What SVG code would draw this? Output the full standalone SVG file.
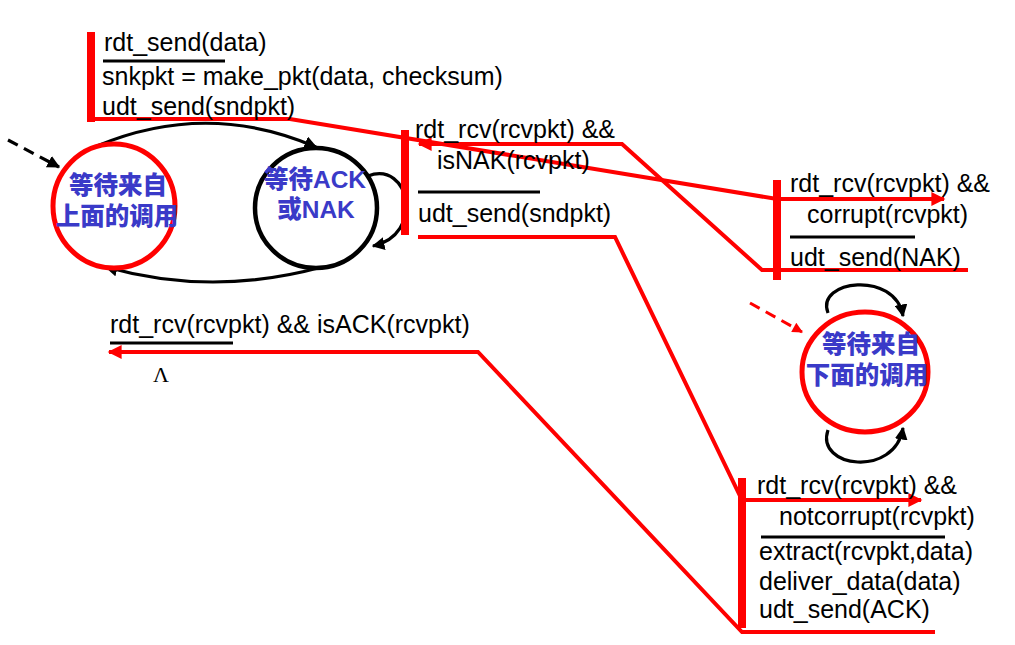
<svg xmlns="http://www.w3.org/2000/svg" width="1015" height="645" viewBox="0 0 1015 645">
  <style>
    .lbl { font-family: "Liberation Sans", Arial, sans-serif; font-size: 25px; fill: #000; }
    .state { font-family: "Liberation Sans", "Noto Sans CJK SC", sans-serif; font-size: 24.5px; font-weight: 900; fill: #3a3ac8; text-anchor: middle; }
    .rule { stroke: #000; stroke-width: 3; }
    .bar { fill: #ff0000; }
    .red { fill: none; stroke: #ff0000; stroke-width: 4; stroke-linejoin: miter; }
    .blk { fill: none; stroke: #000; stroke-width: 3.2; }
  </style>
  <defs>
    <marker id="ah-black" viewBox="0 0 10 10" refX="9" refY="5" markerWidth="4" markerHeight="4" orient="auto" markerUnits="strokeWidth">
      <path d="M0,0 L10,5 L0,10 Z" fill="#000"/>
    </marker>
    <marker id="ah-red" viewBox="0 0 10 10" refX="9" refY="5" markerWidth="4.5" markerHeight="3.5" orient="auto" markerUnits="strokeWidth">
      <path d="M0,0 L10,5 L0,10 Z" fill="#ff0000"/>
    </marker>
  </defs>

  <rect width="1015" height="645" fill="#fff"/>

  <!-- connectors -->
  <g id="connectors">
    <!-- sender transitions -->
    <path class="blk" d="M97,146 Q207,100 316,147" marker-end="url(#ah-black)"/>
    <path class="blk" d="M322,267 Q212,297 106,267" marker-end="url(#ah-black)"/>
    <path class="blk" d="M368,176 C410,160 425,235 373,246" marker-end="url(#ah-black)"/>
    <path class="blk" d="M8,140 L59,167" stroke-dasharray="11,7" marker-end="url(#ah-black)"/>
    <!-- receiver self loops -->
    <path class="blk" d="M828,313 C815,280 895,270 903,316" marker-end="url(#ah-black)"/>
    <path class="blk" d="M828,430 C815,468 895,478 903,428" marker-end="url(#ah-black)"/>
    <path d="M750,303 L802,332" fill="none" stroke="#ff0000" stroke-width="3" stroke-dasharray="11,7" marker-end="url(#ah-red)"/>

    <!-- highlighted red trace lines -->
    <path class="red" d="M88,119 L290,119 L777,199 L944,199" marker-end="url(#ah-red)"/>
    <path class="red" d="M968,270 L762,270 L622,144 L419,144" marker-end="url(#ah-red)"/>
    <path class="red" d="M418,237 L615,237 L742,500 L921,500" marker-end="url(#ah-red)"/>
    <path class="red" d="M935,632 L742,632 L478,352 L109,352" marker-end="url(#ah-red)"/>
  </g>

  <!-- sender: wait for call from above -->
  <g id="sender-wait-call">
    <ellipse cx="114" cy="206" rx="61" ry="62" fill="#fff" stroke="#ff0000" stroke-width="5"/>
    <text class="state" x="118" y="194">等待来自</text>
    <text class="state" x="117" y="225">上面的调用</text>
  </g>

  <!-- sender: wait for ACK or NAK -->
  <g id="sender-wait-ack">
    <ellipse cx="316" cy="208" rx="61" ry="60" fill="#fff" stroke="#000" stroke-width="4.5"/>
    <text class="state" x="315" y="188">等待ACK</text>
    <text class="state" x="316" y="218">或NAK</text>
  </g>

  <!-- receiver: wait for call from below -->
  <g id="receiver-wait">
    <ellipse cx="865" cy="372" rx="63" ry="60" fill="#fff" stroke="#ff0000" stroke-width="5"/>
    <text class="state" x="871" y="353">等待来自</text>
    <text class="state" x="867" y="384">下面的调用</text>
  </g>

  <!-- transition: rdt_send -->
  <g id="t-rdt-send">
    <rect class="bar" x="87" y="32" width="8" height="90"/>
    <text class="lbl" x="104" y="51">rdt_send(data)</text>
    <line class="rule" x1="103" y1="61" x2="225" y2="61"/>
    <text class="lbl" x="102" y="85">snkpkt = make_pkt(data, checksum)</text>
    <text class="lbl" x="102" y="115">udt_send(sndpkt)</text>
  </g>

  <!-- transition: NAK received, resend -->
  <g id="t-is-nak">
    <rect class="bar" x="401" y="130" width="8" height="105"/>
    <text class="lbl" x="415" y="138">rdt_rcv(rcvpkt) &amp;&amp;</text>
    <text class="lbl" x="437" y="169">isNAK(rcvpkt)</text>
    <line class="rule" x1="418" y1="192" x2="540" y2="192"/>
    <text class="lbl" x="418" y="222">udt_send(sndpkt)</text>
  </g>

  <!-- transition: ACK received -->
  <g id="t-is-ack">
    <text class="lbl" x="110" y="333">rdt_rcv(rcvpkt) &amp;&amp; isACK(rcvpkt)</text>
    <line class="rule" x1="110" y1="343" x2="233" y2="343"/>
    <text x="153" y="382" font-family="Liberation Serif, 'Times New Roman', serif" font-size="22" fill="#000">Λ</text>
  </g>

  <!-- transition: corrupt packet received -->
  <g id="t-corrupt">
    <rect class="bar" x="773" y="180" width="8" height="100"/>
    <text class="lbl" x="790" y="192">rdt_rcv(rcvpkt) &amp;&amp;</text>
    <text class="lbl" x="807" y="223">corrupt(rcvpkt)</text>
    <line class="rule" x1="790" y1="237" x2="915" y2="237"/>
    <text class="lbl" x="790" y="266">udt_send(NAK)</text>
  </g>

  <!-- transition: good packet received -->
  <g id="t-notcorrupt">
    <rect class="bar" x="738" y="478" width="8" height="150"/>
    <text class="lbl" x="757" y="494">rdt_rcv(rcvpkt) &amp;&amp;</text>
    <text class="lbl" x="779" y="525">notcorrupt(rcvpkt)</text>
    <line class="rule" x1="761" y1="537" x2="945" y2="537"/>
    <text class="lbl" x="759" y="560">extract(rcvpkt,data)</text>
    <text class="lbl" x="759" y="590">deliver_data(data)</text>
    <text class="lbl" x="759" y="618">udt_send(ACK)</text>
  </g>
</svg>
